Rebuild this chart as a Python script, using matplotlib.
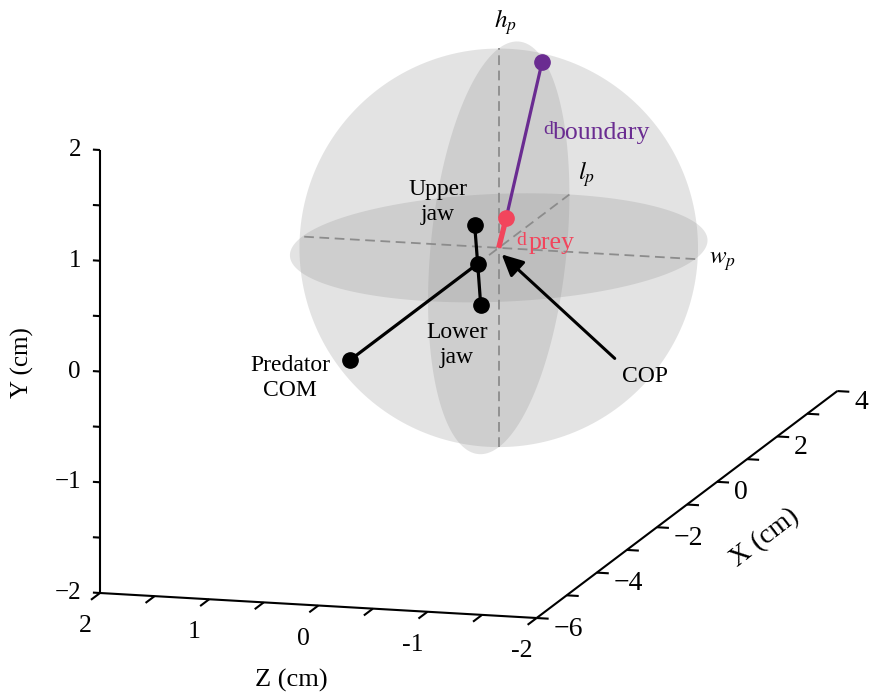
import numpy as np
import matplotlib
matplotlib.use("Agg")
import matplotlib.pyplot as plt
from mpl_toolkits.mplot3d import proj3d
from mpl_toolkits.mplot3d.art3d import Poly3DCollection

plt.rcParams['font.family'] = ['Liberation Serif', 'DejaVu Serif']
plt.rcParams['mathtext.fontset'] = 'stix'
plt.rcParams['lines.scale_dashes'] = False

# ---------------- data (cm); every point is (X, Y, Z) ----------------
x_ticks = [-6, -5, -4, -3, -2, -1, 0, 1, 2, 3, 4]
x_label_values = [-6, -4, -2, 0, 2, 4]
x_labels = ['\u22126', '\u22124', '\u22122', '0', '2', '4']
y_ticks = [-2, -1.5, -1, -0.5, 0, 0.5, 1, 1.5, 2]
y_label_values = [-2, -1, 0, 1, 2]
y_labels = ['\u22122', '\u22121', '0', '1', '2']
z_ticks = [-2, -1.5, -1, -0.5, 0, 0.5, 1, 1.5, 2]
z_label_values = [2, 1, 0, -1, -2]
z_labels = ['2', '1', '0', '-1', '-2']

predator_com = [-4.95, 0.0, 0.0]
jaw_joint = [-0.70, 0.0, 0.0]
upper_jaw = [-0.80, 0.37, 0.0]
lower_jaw = [-0.60, -0.39, 0.0]
prey_point = [0.25, 0.22, 0.0]
boundary_point = [1.44, 1.38, 0.0]
cop_point = [0.10, -0.08, 0.0]
space_radius = 1.76
lp_semi = 2.35
hp_semi = 1.8
wp_semi = 1.8

W, H = 869, 695
ELEV, AZIM = 12, 195.4

fig = plt.figure(figsize=(W / 100, H / 100), dpi=100)
ax = fig.add_axes([0, 0, 1, 1], projection='3d', proj_type='ortho',
                  computed_zorder=False)
ax.view_init(elev=ELEV, azim=AZIM)
ax.set_xlim(-6, 4)
ax.set_ylim(-2, 2)
ax.set_zlim(-2, 2)
ax.set_box_aspect((10, 4, 4))
ax.set_axis_off()


def proj2d(X, Y, Z):
    x2, y2, _ = proj3d.proj_transform(np.atleast_1d(np.asarray(X, float)),
                                      np.atleast_1d(np.asarray(Z, float)),
                                      np.atleast_1d(np.asarray(Y, float)),
                                      ax.get_proj())
    return x2, y2


def to_px(X, Y, Z):
    x2, y2 = proj2d(X, Y, Z)
    return ax.transData.transform(np.column_stack([x2, y2]))[0]


# calibrate scale and placement so the box sits where the reference has it
fig.canvas.draw()
a = to_px(-6, -2, 2)
t = to_px(-6, 2, 2)
zoom = 443.0 / np.hypot(*(t - a))
ax.set_box_aspect((10, 4, 4), zoom=zoom)
fig.canvas.draw()
a = to_px(-6, -2, 2)
dx, dy = 100 - a[0], (H - 593) - a[1]
ax.set_position([dx / W, dy / H, 1, 1])
fig.canvas.draw()


def P2(p):
    x2, y2 = proj2d(p[0], p[1], p[2])
    return (x2[0], y2[0])


def plot3(Xs, Ys, Zs, **kw):
    return ax.plot(Xs, Zs, Ys, clip_on=False, **kw)


def label(txt, p, off, **kw):
    ax.annotate(txt, xy=P2(p), xytext=off, textcoords='offset pixels',
                annotation_clip=False, **kw)


# ---------------- gray shapes ----------------
shade = (0.55, 0.55, 0.55, 0.24)
e, az = np.radians(ELEV), np.radians(AZIM)
u = np.array([-np.sin(az), np.cos(az), 0.0])
v = np.array([-np.sin(e) * np.cos(az), -np.sin(e) * np.sin(az), np.cos(e)])
tt = np.linspace(0, 2 * np.pi, 240)
sil = space_radius * (np.outer(np.cos(tt), u) + np.outer(np.sin(tt), v))
horiz = np.column_stack([lp_semi * np.cos(tt), wp_semi * np.sin(tt), np.zeros_like(tt)])
vert = np.column_stack([lp_semi * np.cos(tt), np.zeros_like(tt), hp_semi * np.sin(tt)])
for verts in (sil, horiz, vert):
    pc = Poly3DCollection([verts], facecolor=shade, edgecolor='none', zorder=1)
    pc.set_clip_on(False)
    ax.add_collection3d(pc)

# dashed body axes
dash_kw = dict(color='#8c8c8c', lw=1.3, linestyle=(0, (7, 4)), zorder=2)
plot3([0, 0], [-hp_semi, hp_semi], [0, 0], **dash_kw)
plot3([0, 0], [0, 0], [-wp_semi, wp_semi], **dash_kw)
plot3([-lp_semi, lp_semi], [0, 0], [0, 0], **dash_kw)

# ---------------- axes lines and ticks ----------------
ak = dict(color='black', lw=1.5, zorder=2, solid_capstyle='butt')
plot3([-6, -6], [-2, 2], [2, 2], **ak)
plot3([-6, -6], [-2, -2], [2, -2], **ak)
plot3([-6, 4], [-2, -2], [-2, -2], **ak)
for yv in y_ticks:
    plot3([-6, -6], [yv, yv], [2, 2.065], **ak)
for zv in z_ticks:
    plot3([-6, -6.3], [-2, -2], [zv, zv], **ak)
for xv in x_ticks:
    plot3([xv, xv], [-2, -2], [-2, -2.11], **ak)

for val, txt in zip(y_label_values, y_labels):
    label(txt, (-6, val, 2), (-19, 0), ha='right', va='center', fontsize=18)
for val, txt in zip(z_label_values, z_labels):
    label(txt, (-6, -2, val), (-15, -33), ha='center', va='center', fontsize=18.5)
for val, txt in zip(x_label_values, x_labels):
    label(txt, (val, -2, -2), (17, -11), ha='left', va='center', fontsize=20)

label('Y (cm)', (-6, 0, 2), (-78, 9), ha='center', va='center', fontsize=18,
      rotation=90)
label('Z (cm)', (-6, -2, 0), (-27, -75), ha='center', va='center', fontsize=19)
label('X (cm)', (-1, -2, -2), (78, -33), ha='center', va='center', fontsize=20,
      rotation=37.6, rotation_mode='anchor')

# ---------------- predator, prey, boundary ----------------
plot3([predator_com[0], jaw_joint[0]], [predator_com[1], jaw_joint[1]],
      [predator_com[2], jaw_joint[2]], color='black', lw=2.3, zorder=4)
plot3([upper_jaw[0], jaw_joint[0], lower_jaw[0]],
      [upper_jaw[1], jaw_joint[1], lower_jaw[1]],
      [upper_jaw[2], jaw_joint[2], lower_jaw[2]], color='black', lw=2.3, zorder=4)
for p in (predator_com, jaw_joint, upper_jaw, lower_jaw):
    plot3([p[0]], [p[1]], [p[2]], marker='o', ms=11, color='black', zorder=5)

plot3([prey_point[0], boundary_point[0]], [prey_point[1], boundary_point[1]],
      [prey_point[2], boundary_point[2]], color='#6a2c91', lw=2.3, zorder=4)
plot3([0, prey_point[0]], [0, prey_point[1]], [0, prey_point[2]],
      color='#f2455c', lw=3.8, zorder=4, solid_capstyle='butt')
plot3([boundary_point[0]], [boundary_point[1]], [boundary_point[2]], marker='o',
      ms=11, color='#6a2c91', zorder=5)
plot3([prey_point[0]], [prey_point[1]], [prey_point[2]], marker='o',
      ms=11, color='#f2455c', zorder=5)

# COP arrow
ax.annotate('', xy=P2(cop_point), xytext=(113, -104), textcoords='offset pixels',
            annotation_clip=False,
            arrowprops=dict(arrowstyle='-|>,head_length=0.65,head_width=0.32',
                            mutation_scale=20, color='black', lw=2.2,
                            shrinkA=0, shrinkB=0))

# ---------------- labels ----------------
lab = dict(fontsize=17, ha='center', va='center', multialignment='center',
           linespacing=1.25)
label('Upper\njaw', upper_jaw, (-37, 23), **lab)
label('Lower\njaw', lower_jaw, (-24, -40), **lab)
label('Predator\nCOM', predator_com, (-60, -18), **lab)
label('COP', cop_point, (143, -122), **lab)

label('d', boundary_point, (1, -72), ha='left', va='baseline', fontsize=14,
      color='#6a2c91')
label('boundary', boundary_point, (11, -77), ha='left', va='baseline',
      fontsize=18.5, color='#6a2c91')
label('d', prey_point, (10, -27), ha='left', va='baseline', fontsize=14,
      color='#f2455c')
label('prey', prey_point, (22, -31), ha='left', va='baseline', fontsize=18.5,
      color='#f2455c')

label(r'$h_p$', (0, hp_semi, 0), (-5, 21), ha='left', va='baseline', fontsize=18)
label(r'$l_p$', (lp_semi, 0, 0), (9, 15), ha='left', va='baseline', fontsize=18)
label(r'$w_p$', (0, 0, -wp_semi), (14, -5), ha='left', va='baseline', fontsize=18)

fig.savefig('out.png', dpi=100)
